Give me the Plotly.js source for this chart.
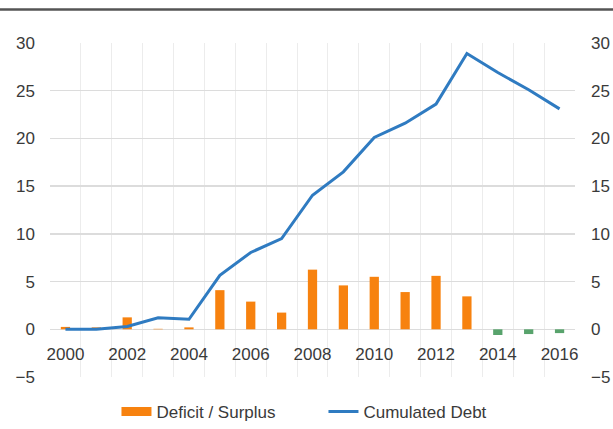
<!DOCTYPE html>
<html>
<head>
<meta charset="utf-8">
<script src="https://cdn.plot.ly/plotly-3.0.1.min.js"></script>
<style>html,body{margin:0;padding:0;background:#fff;}#chart{width:613px;height:429px;}</style>
</head>
<body>
<div id="chart"></div>
<script>
const years = [2000,2001,2002,2003,2004,2005,2006,2007,2008,2009,2010,2011,2012,2013,2014,2015,2016];
const deficitSurplus = [0.25,0.2,1.25,0.05,0.2,4.1,2.9,1.75,6.25,4.6,5.5,3.9,5.6,3.45,-0.6,-0.5,-0.4];
const cumulatedDebt = [0.0,0.0,0.3,1.2,1.05,5.65,8.05,9.5,14.05,16.5,20.1,21.6,23.6,28.9,26.9,25.1,23.1];
const yTicks = [-5,0,5,10,15,20,25,30];
const xTickYears = [2000,2002,2004,2006,2008,2010,2012,2014,2016];

const orange = '#f7820f';
const green = '#58a36c';
const blue = '#2f7bc1';

const barColors = deficitSurplus.map(v => v < 0 ? green : orange);
const boundaries = years.map(y => y - 0.5).concat([years[years.length-1] + 0.5]);
const yMin = -5, yMax = 30;

const traces = [
  {type:'bar', name:'Deficit / Surplus', x:years, y:deficitSurplus,
   marker:{color:barColors, line:{width:0}}, width:0.3, showlegend:false},
  {type:'scatter', mode:'lines', name:'Deficit / Surplus', x:[null], y:[null],
   line:{color:orange, width:9}, showlegend:true, hoverinfo:'skip'},
  {type:'scatter', mode:'lines', name:'Cumulated Debt', x:years, y:cumulatedDebt,
   line:{color:blue, width:3}}
];

const fontFam = 'Liberation Sans, Arial, sans-serif';
const tickFont = {family:fontFam, size:17, color:'#3a3a3a'};
const layout = {
  width:613, height:429,
  margin:{l:50, r:38, t:43, b:52},
  paper_bgcolor:'#fff', plot_bgcolor:'#fff',
  showlegend:true,
  legend:{orientation:'h', xref:'container', x:0.19, xanchor:'left', yref:'container', y:0.04, yanchor:'middle',
          font:{family:fontFam, size:17, color:'#3a3a3a'},
          entrywidth:162, entrywidthmode:'pixels',
          traceorder:'normal'},
  xaxis:{type:'linear', range:[1999.5,2016.5], tickvals:xTickYears, ticktext:xTickYears.map(String),
         anchor:'free', position:(0 - yMin)/(yMax - yMin),
         showgrid:false, zeroline:false, showline:false, ticks:'', tickfont:tickFont,
         ticklabelstandoff:13,
         minor:{tickvals:boundaries, showgrid:true, gridcolor:'#ececec', gridwidth:1, ticks:''},
         fixedrange:true},
  yaxis:{range:[yMin,yMax], tickvals:yTicks, showgrid:true, gridcolor:'#dcdcdc', gridwidth:1.5,
         zeroline:false, showline:false, ticks:'', tickfont:tickFont, ticklabelstandoff:14},
  yaxis2:{range:[yMin,yMax], tickvals:yTicks, overlaying:'y', side:'right', showgrid:false,
          zeroline:false, showline:false, ticks:'', tickfont:tickFont, ticklabelstandoff:15},
  shapes:[{type:'line', xref:'paper', yref:'paper', x0:-0.2, x1:1.2, y0:1.1, y1:1.1,
           line:{color:'#555', width:2.5}}]
};
traces.push({type:'scatter', x:[years[0]], y:[0], yaxis:'y2', mode:'markers',
             marker:{opacity:0}, showlegend:false, hoverinfo:'skip'});
Plotly.newPlot('chart', traces, layout, {displayModeBar:false, staticPlot:true});
</script>
</body>
</html>
